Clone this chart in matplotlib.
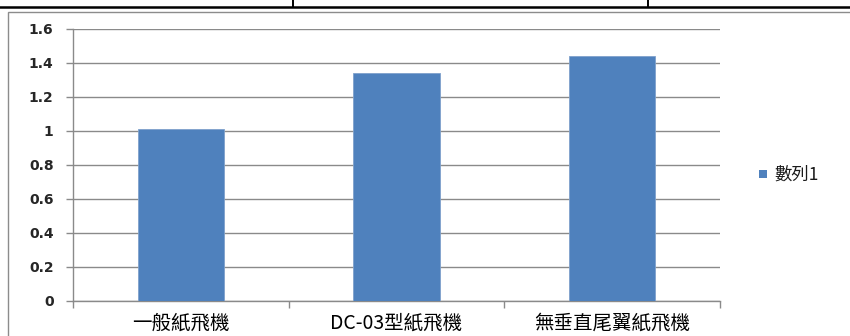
import matplotlib.pyplot as plt
from matplotlib.patches import Rectangle
from matplotlib.lines import Line2D
import numpy as np

plt.rcParams['font.family'] = ['Noto Sans CJK TC', 'DejaVu Sans']

categories = ['一般紙飛機', 'DC-03型紙飛機', '無垂直尾翼紙飛機']
values = [1.01, 1.34, 1.44]
series_name = '數列1'
yticks = [0, 0.2, 0.4, 0.6, 0.8, 1, 1.2, 1.4, 1.6]
ytick_labels = ['0', '0.2', '0.4', '0.6', '0.8', '1', '1.2', '1.4', '1.6']

W, H = 850, 336
fig = plt.figure(figsize=(W / 100, H / 100), dpi=100)

def fx(px):
    return px / W

def fy(py):
    return 1 - py / H

# table rule lines above the chart
fig.add_artist(Line2D([0, 1], [fy(7), fy(7)], color='black', lw=1.8))
for xv in (293, 648):
    fig.add_artist(Line2D([fx(xv), fx(xv)], [1, fy(7)], color='black', lw=1.4))

# chart frame
fig.add_artist(Rectangle((fx(8), -0.1), 1.2, fy(12) + 0.1, fill=False,
                         edgecolor='#8c8c8c', lw=1.0))

ax = fig.add_axes([fx(73), fy(300.5), fx(720) - fx(73), fy(29) - fy(300.5)])
x = np.arange(len(categories))
ax.bar(x, values, width=0.4, color='#4F81BD', edgecolor='#7FA1CC',
       linewidth=0.6, zorder=3)

ax.set_xlim(-0.5, 2.5)
ax.set_ylim(0, 1.6)
ax.set_yticks(yticks, ytick_labels)
ax.yaxis.grid(True, color='#8a8a8a', lw=1.0, zorder=0)

ax.set_xticks(x, categories)
ax.tick_params(axis='x', length=0, pad=9, labelsize=14, labelcolor='black')
ax.set_xticks([-0.5, 0.5, 1.5, 2.5], minor=True)
ax.tick_params(axis='x', which='minor', length=5, color='#8a8a8a', width=1.0)
ax.tick_params(axis='y', length=5, color='#8a8a8a', width=1.0, pad=9,
               labelsize=10, labelcolor='#262626',
               labelfontfamily='DejaVu Sans')
for t in ax.get_yticklabels():
    t.set_fontweight('bold')

for s in ('top', 'right'):
    ax.spines[s].set_visible(False)
for s in ('left', 'bottom'):
    ax.spines[s].set_color('#8a8a8a')
    ax.spines[s].set_linewidth(1.0)

# legend
fig.add_artist(Rectangle((fx(759), fy(178)), fx(8), 8 / H,
                         facecolor='#4F81BD', edgecolor='none'))
fig.text(fx(774), fy(174.5), series_name, fontsize=12.5, va='center',
         ha='left', color='#1a1a1a')

fig.savefig('out.png', dpi=100)
